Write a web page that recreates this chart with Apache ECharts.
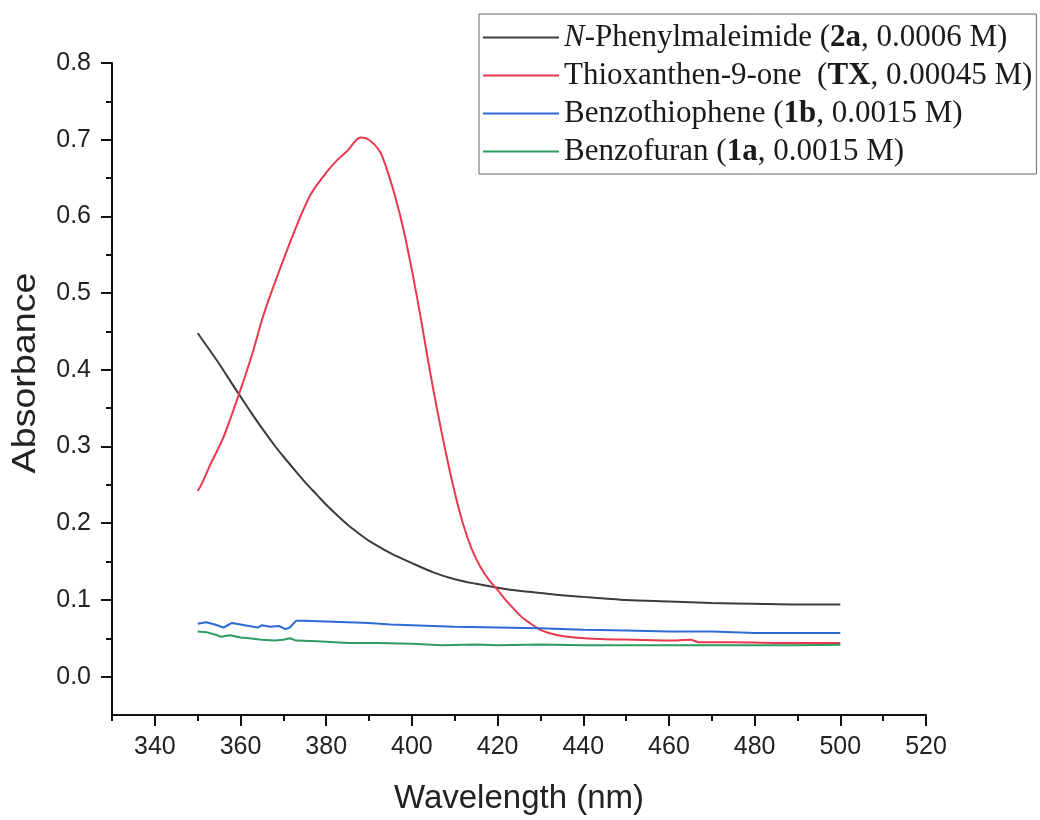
<!DOCTYPE html>
<html>
<head>
<meta charset="utf-8">
<title>UV-Vis absorbance spectra</title>
<script src="https://cdn.jsdelivr.net/npm/echarts@6/dist/echarts.min.js"></script>
<style>
  html, body { margin: 0; padding: 0; background: #ffffff; }
  #chart { width: 1040px; height: 820px; }
</style>
</head>
<body>
<div id="chart"></div>
<script>
// Absorbance spectra (wavelength in nm, absorbance)
const phenylmaleimideWl = [350, 352, 355, 358, 360, 363, 365, 368, 370, 373, 375, 378, 380, 383, 385, 388, 390, 395, 400, 405, 410, 415, 420, 425, 430, 435, 440, 445, 450, 460, 470, 480, 490, 500];
const phenylmaleimideAbs = [0.448, 0.432, 0.408, 0.382, 0.365, 0.340, 0.324, 0.301, 0.287, 0.267, 0.254, 0.236, 0.224, 0.208, 0.198, 0.185, 0.177, 0.161, 0.148, 0.136, 0.127, 0.121, 0.116, 0.112, 0.109, 0.106, 0.104, 0.102, 0.100, 0.098, 0.096, 0.095, 0.094, 0.094];

const thioxanthenoneWl = [350, 351, 353, 356, 359.5, 362.7, 365, 367, 371, 374, 376.5, 380, 382.5, 385, 388, 390, 392.5, 394, 396, 398, 400, 402, 404, 406, 408, 410, 412, 414, 416, 418, 420, 422, 424, 426, 428, 430, 432, 435, 438, 444, 452, 460, 465, 467, 475, 485, 500];
const thioxanthenoneAbs = [0.242, 0.252, 0.277, 0.312, 0.366, 0.420, 0.465, 0.498, 0.558, 0.600, 0.630, 0.657, 0.673, 0.686, 0.703, 0.700, 0.685, 0.664, 0.628, 0.584, 0.530, 0.470, 0.405, 0.345, 0.290, 0.240, 0.198, 0.166, 0.143, 0.126, 0.113, 0.099, 0.087, 0.076, 0.068, 0.061, 0.057, 0.053, 0.051, 0.049, 0.048, 0.047, 0.048, 0.045, 0.045, 0.044, 0.044];

const benzothiopheneWl = [350, 351, 352, 354, 356, 357, 358, 360, 362, 364, 365, 367, 369, 370.5, 371.5, 373, 375, 380, 385, 390, 395, 400, 410, 420, 430, 440, 450, 460, 470, 480, 490, 500];
const benzothiopheneAbs = [0.069, 0.070, 0.071, 0.068, 0.064, 0.067, 0.070, 0.068, 0.066, 0.064, 0.067, 0.065, 0.066, 0.062, 0.064, 0.073, 0.073, 0.072, 0.071, 0.070, 0.068, 0.067, 0.065, 0.064, 0.063, 0.061, 0.060, 0.059, 0.059, 0.057, 0.057, 0.057];

const benzofuranWl = [350, 352, 354, 355.5, 357.5, 360, 362, 365, 368, 370, 371.5, 373, 378, 385, 392, 400, 407, 415, 420, 430, 440, 450, 460, 470, 480, 490, 500];
const benzofuranAbs = [0.059, 0.058, 0.055, 0.052, 0.054, 0.051, 0.050, 0.048, 0.047, 0.048, 0.050, 0.047, 0.046, 0.044, 0.044, 0.043, 0.041, 0.042, 0.041, 0.042, 0.041, 0.041, 0.041, 0.041, 0.041, 0.041, 0.0415];

// Axis ticks
const xMajorTicks = [340, 360, 380, 400, 420, 440, 460, 480, 500, 520];
const xMinorTicks = [330, 350, 370, 390, 410, 430, 450, 470, 490, 510];
const yMajorTicks = [0.0, 0.1, 0.2, 0.3, 0.4, 0.5, 0.6, 0.7, 0.8];
const yMinorTicks = [0.05, 0.15, 0.25, 0.35, 0.45, 0.55, 0.65, 0.75];

// Legend entries (rich-text markup per series)
const seriesNames = [
  'N-Phenylmaleimide (2a, 0.0006 M)',
  'Thioxanthen-9-one  (TX, 0.00045 M)',
  'Benzothiophene (1b, 0.0015 M)',
  'Benzofuran (1a, 0.0015 M)'
];
const legendMarkup = [
  '{i|N}-Phenylmaleimide ({b|2a}, 0.0006 M)',
  'Thioxanthen-9-one  ({b|TX}, 0.00045 M)',
  'Benzothiophene ({b|1b}, 0.0015 M)',
  'Benzofuran ({b|1a}, 0.0015 M)'
];
const seriesColors = ['#3c3c3c', '#e8394d', '#2d6ad6', '#2e9c63'];

function pairs(xs, ys) {
  return xs.map((x, i) => [x, ys[i]]);
}

const seriesData = [
  pairs(phenylmaleimideWl, phenylmaleimideAbs),
  pairs(thioxanthenoneWl, thioxanthenoneAbs),
  pairs(benzothiopheneWl, benzothiopheneAbs),
  pairs(benzofuranWl, benzofuranAbs)
];
const smoothing = [0.3, 0.3, false, false];

const sansFont = '"Liberation Sans", Arial, sans-serif';
const serifFont = '"Liberation Serif", "Times New Roman", serif';
const axisColor = '#111111';
const legendFontSize = 31;

const chart = echarts.init(document.getElementById('chart'), null, { renderer: 'canvas' });

const option = {
  animation: false,
  backgroundColor: '#ffffff',
  grid: { left: 112, right: 114, top: 63, bottom: 102 },
  legend: {
    orient: 'vertical',
    left: 479,
    top: 14,
    padding: [8, 4, 7, 4],
    itemWidth: 76,
    itemHeight: 30,
    itemGap: 7,
    icon: 'path://M0,14H76V16.2H0Z',
    borderColor: '#666666',
    borderWidth: 1,
    selectedMode: false,
    data: seriesNames,
    itemStyle: { borderWidth: 0 },
    formatter: function (name) {
      return legendMarkup[seriesNames.indexOf(name)];
    },
    textStyle: {
      fontFamily: serifFont,
      fontSize: legendFontSize,
      color: '#1a1a1a',
      rich: {
        i: { fontFamily: serifFont, fontSize: legendFontSize, fontStyle: 'italic', color: '#1a1a1a' },
        b: { fontFamily: serifFont, fontSize: legendFontSize, fontWeight: 'bold', color: '#1a1a1a' }
      }
    }
  },
  xAxis: [
    {
      type: 'value',
      min: 330,
      max: 520,
      position: 'bottom',
      name: 'Wavelength (nm)',
      nameLocation: 'middle',
      nameGap: 67,
      nameTextStyle: { fontFamily: sansFont, fontSize: 33, color: '#222222' },
      axisLine: { show: true, onZero: false, lineStyle: { color: axisColor, width: 2 } },
      axisTick: { show: true, customValues: xMajorTicks, length: 11, lineStyle: { color: axisColor, width: 2 } },
      axisLabel: {
        customValues: xMajorTicks,
        margin: 20,
        fontFamily: sansFont,
        fontSize: 25,
        color: '#222222'
      },
      splitLine: { show: false }
    },
    {
      type: 'value',
      min: 330,
      max: 520,
      position: 'bottom',
      axisLine: { show: false, onZero: false },
      axisTick: { show: true, customValues: xMinorTicks, length: 6, lineStyle: { color: axisColor, width: 2 } },
      axisLabel: { show: false },
      splitLine: { show: false }
    }
  ],
  yAxis: [
    {
      type: 'value',
      min: -0.05,
      max: 0.8,
      position: 'left',
      axisLine: { show: true, onZero: false, lineStyle: { color: axisColor, width: 2 } },
      axisTick: { show: true, customValues: yMajorTicks, length: 11, lineStyle: { color: axisColor, width: 2 } },
      axisLabel: {
        customValues: yMajorTicks,
        margin: 21,
        fontFamily: sansFont,
        fontSize: 25,
        color: '#222222',
        formatter: function (v) { return Number(v).toFixed(1); }
      },
      splitLine: { show: false }
    },
    {
      type: 'value',
      min: -0.05,
      max: 0.8,
      position: 'left',
      axisLine: { show: false, onZero: false },
      axisTick: { show: true, customValues: yMinorTicks, length: 6, lineStyle: { color: axisColor, width: 2 } },
      axisLabel: { show: false },
      splitLine: { show: false }
    }
  ],
  graphic: [
    {
      type: 'text',
      x: 26,
      y: 373,
      rotation: Math.PI / 2,
      scaleX: 1.14,
      style: {
        text: 'Absorbance',
        font: '33px ' + sansFont,
        fill: '#222222',
        align: 'center',
        verticalAlign: 'middle'
      }
    }
  ],
  series: seriesNames.map((name, i) => ({
    name: name,
    type: 'line',
    xAxisIndex: 0,
    yAxisIndex: 0,
    data: seriesData[i],
    showSymbol: false,
    symbol: 'none',
    smooth: smoothing[i],
    color: seriesColors[i],
    lineStyle: { color: seriesColors[i], width: 2 },
    itemStyle: { color: seriesColors[i] },
    emphasis: { disabled: true }
  }))
};

chart.setOption(option);
</script>
</body>
</html>
